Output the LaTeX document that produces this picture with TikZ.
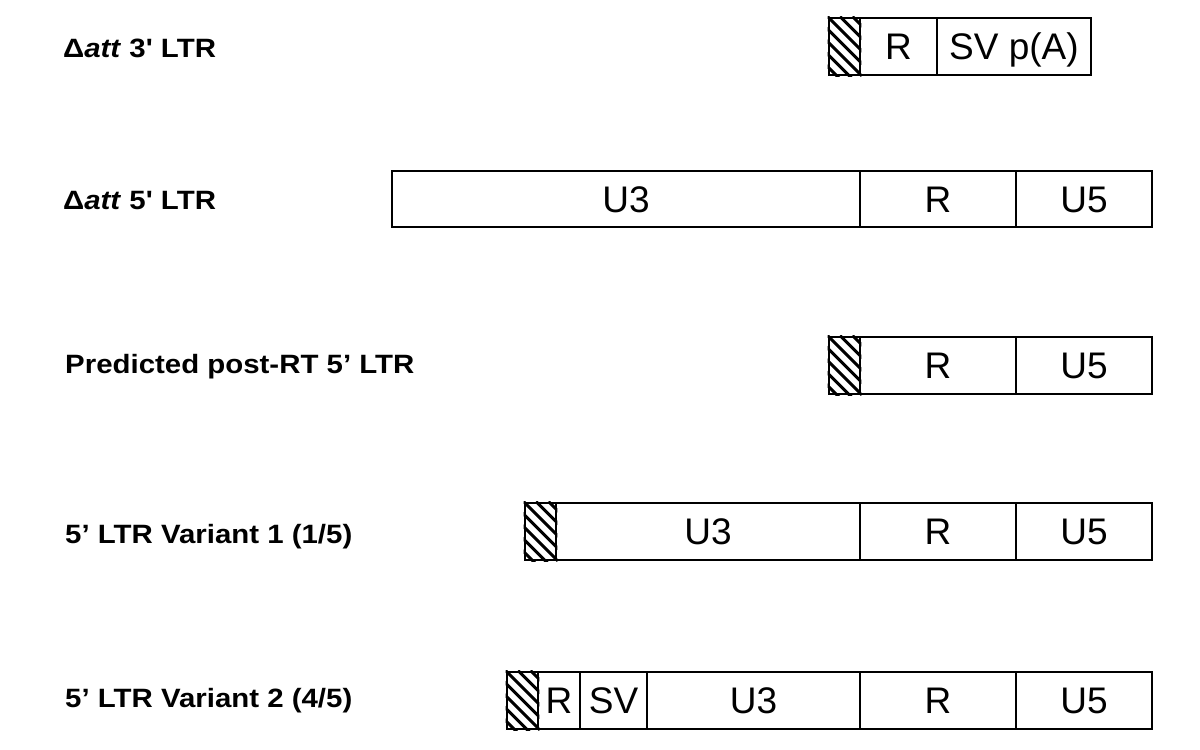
\documentclass[tikz,border=0pt]{standalone}
\usepackage{fontspec}
\usepackage{graphicx}
\setmainfont{Liberation Sans}
\newcommand\mycell[6]{%
  \node[box, minimum width={#3-#2}, minimum height={#5-#4}] (#1) at ({(#2+#3)/2},{(#4+#5)/2}) {#6};}
\newcommand\myhatch[1]{%
  \begin{scope}
    \clip (#1.south west) rectangle (#1.north east);
    \foreach \k in {-7,...,4}
      \draw[hatchline] ([xshift=\k*12.5pt]#1.north west) -- ++(64,64);
  \end{scope}}
\newcommand\wide[1]{\scalebox{1.11}[1]{#1}}
\begin{document}
\begin{tikzpicture}[x=1pt,y=-1pt,
  box/.style={draw, line width=2.9pt, inner sep=0pt, text height=26.5pt, text depth=0pt,
    font=\fontsize{37}{40}\selectfont},
  lab/.style={anchor=west, inner sep=0pt, text height=19pt, text depth=0pt,
    font=\bfseries\fontsize{26.5}{30}\selectfont},
  hatchline/.style={line width=3pt}]
\useasboundingbox (0,0) rectangle (1200,750);

% labels
\node[lab] (lab1) at (63,48) {\wide{Δ\textit{att} 3\textquotesingle{} LTR}};
\node[lab] (lab2) at (63,200) {\wide{Δ\textit{att} 5\textquotesingle{} LTR}};
\node[lab] (lab3) at (65,364) {\wide{Predicted post-RT 5’ LTR}};
\node[lab] (lab4) at (65,534) {\wide{5’ LTR Variant 1 (1/5)}};
\node[lab] (lab5) at (65,698) {\wide{5’ LTR Variant 2 (4/5)}};

% row 1
\mycell{aH}{829}{860}{18}{75}{}
\myhatch{aH}
\mycell{aR}{860}{937}{18}{75}{R}
\mycell{aS}{937}{1091}{18}{75}{SV p(A)}

% row 2
\mycell{bU3}{392}{860}{171}{227}{U3}
\mycell{bR}{860}{1016}{171}{227}{R}
\mycell{bU5}{1016}{1152}{171}{227}{U5}

% row 3
\mycell{cH}{829}{860}{337}{394}{}
\myhatch{cH}
\mycell{cR}{860}{1016}{337}{394}{R}
\mycell{cU5}{1016}{1152}{337}{394}{U5}

% row 4
\mycell{dH}{525}{556}{503}{560}{}
\myhatch{dH}
\mycell{dU3}{556}{860}{503}{560}{U3}
\mycell{dR}{860}{1016}{503}{560}{R}
\mycell{dU5}{1016}{1152}{503}{560}{U5}

% row 5
\mycell{eH}{507}{538}{672}{729}{}
\myhatch{eH}
\mycell{eR1}{538}{580}{672}{729}{R}
\mycell{eSV}{580}{647}{672}{729}{SV}
\mycell{eU3}{647}{860}{672}{729}{U3}
\mycell{eR}{860}{1016}{672}{729}{R}
\mycell{eU5}{1016}{1152}{672}{729}{U5}
\end{tikzpicture}
\end{document}
